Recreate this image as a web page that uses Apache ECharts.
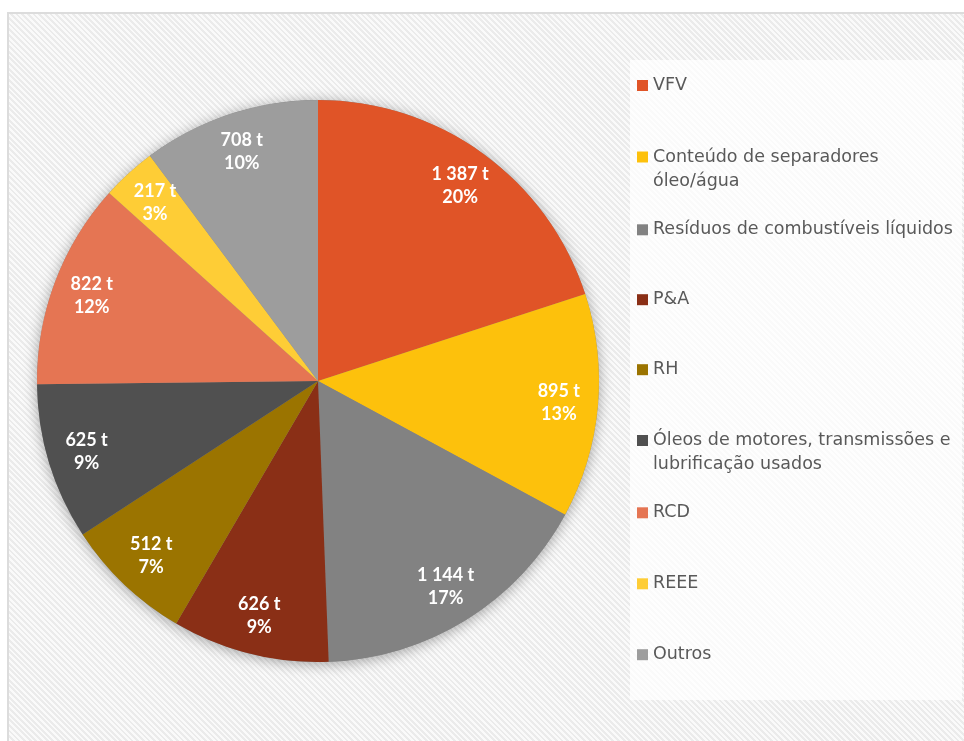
<!DOCTYPE html>
<html>
<head>
<meta charset="utf-8">
<script src="https://cdn.jsdelivr.net/npm/echarts@6/dist/echarts.min.js"></script>
<style>
html, body { margin: 0; padding: 0; width: 964px; height: 741px; overflow: hidden; background: #fff; }
.frame {
  position: absolute; left: 7px; top: 12px; width: 1000px; height: 800px;
  border: 2px solid #dcdcdc;
  background: repeating-linear-gradient(45deg, #fafafa 0 2px, #ebebeb 2px 4px);
}
#chart { position: absolute; left: 0; top: 0; width: 964px; height: 741px; }
</style>
</head>
<body>
<div class="frame"></div>
<div id="chart"></div>
<script>
// dados
const categories = [
  'VFV',
  'Conteúdo de separadores óleo/água',
  'Resíduos de combustíveis líquidos',
  'P&A',
  'RH',
  'Óleos de motores, transmissões e lubrificação usados',
  'RCD',
  'REEE',
  'Outros'
]
const values = [1387, 895, 1144, 626, 512, 625, 822, 217, 708]
const colors = ['#e05427', '#fdc10c', '#828282', '#8a2f16', '#9b7400', '#505050', '#e57553', '#fecd36', '#9d9d9d']

// nomes quebrados em duas linhas na legenda
const wrapped = {
  'Conteúdo de separadores óleo/água': ['Conteúdo de separadores', 'óleo/água'],
  'Óleos de motores, transmissões e lubrificação usados': ['Óleos de motores, transmissões e', 'lubrificação usados']
}

// layout
const center = [318, 381]
const radius = 281
const legendY = [85.5, 157, 229.8, 299.7, 369.7, 440.5, 512.8, 583.8, 654.7]

const fmtValue = v => String(v).replace(/\B(?=(\d{3})+(?!\d))/g, ' ')

const chart = echarts.init(document.getElementById('chart'))

// uma legenda por item, para acertar a posição vertical de cada um
const legends = categories.map((name, i) => {
  const twoLines = !!wrapped[name]
  return {
    orient: 'vertical',
    left: 637,
    top: legendY[i] - (twoLines ? 36 : 12),
    padding: 0,
    itemWidth: 11,
    itemHeight: 11,
    icon: 'rect',
    selectedMode: false,
    data: [name],
    // linha vazia em cima para que o marcador fique na primeira linha
    formatter: n => wrapped[n] ? ' \n' + wrapped[n].join('\n') : n,
    textStyle: {
      fontFamily: 'DejaVu Sans',
      fontSize: 17.5,
      color: '#595959',
      lineHeight: 24
    }
  }
})

chart.setOption({
  animation: false,
  legend: legends,
  graphic: [
    {
      type: 'rect',
      z: -1,
      shape: { x: 630, y: 60, width: 332, height: 640 },
      style: { fill: 'rgba(255,255,255,0.75)' }
    },
    {
      type: 'circle',
      z: 0,
      shape: { cx: center[0], cy: center[1], r: radius },
      style: { fill: '#888', shadowBlur: 14, shadowColor: 'rgba(0,0,0,0.35)', shadowOffsetY: 2 }
    }
  ],
  series: [
    {
      type: 'pie',
      center: center,
      radius: [0, radius],
      startAngle: 90,
      silent: true,
      label: { show: false },
      labelLine: { show: false },
      emphasis: { disabled: true },
      itemStyle: { borderWidth: 0 },
      data: categories.map((name, i) => ({ name, value: values[i], itemStyle: { color: colors[i] } }))
    },
    {
      // camada transparente só para posicionar os rótulos mais perto da borda
      type: 'pie',
      center: center,
      radius: [radius * 0.7, radius],
      startAngle: 90,
      silent: true,
      percentPrecision: 0,
      emphasis: { disabled: true },
      labelLine: { show: false },
      label: {
        show: true,
        position: 'inside',
        color: '#fff',
        fontFamily: 'Lato',
        fontWeight: 'bold',
        fontSize: 18,
        lineHeight: 23,
        formatter: p => fmtValue(p.value) + ' t\n' + p.percent + '%'
      },
      itemStyle: { color: 'rgba(0,0,0,0)' },
      data: categories.map((name, i) => ({ name, value: values[i] }))
    }
  ]
})
</script>
</body>
</html>
